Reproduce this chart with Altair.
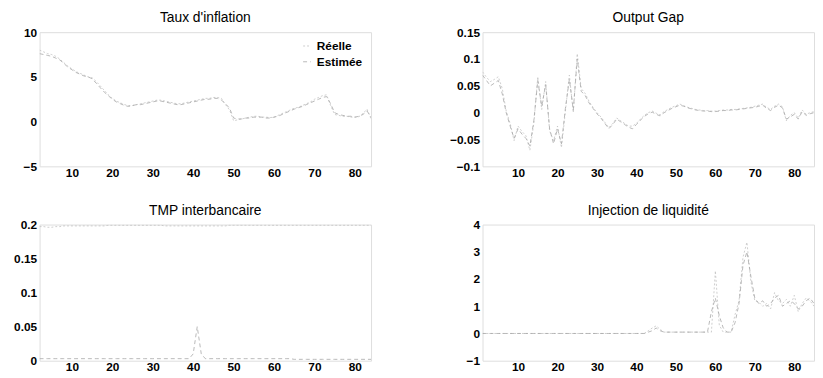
import altair as alt
import pandas as pd

# ---------------- data ----------------
series_names = ["Réelle", "Estimée"]
x_ticks = [10, 20, 30, 40, 50, 60, 70, 80]

# left panels: periods 2..84
t_left = list(range(2, 85))
# right panels: periods 1..85
t_right = list(range(1, 86))

infl_reelle = [8.0, 7.8, 7.6, 7.5, 7.3, 7.0, 6.6, 6.2, 5.9,
               5.6, 5.4, 5.2, 5.0, 4.9, 4.5, 4.0, 3.5, 3.0, 2.6,
               2.3, 2.1, 1.9, 1.8, 1.8, 1.9, 2.0, 2.1, 2.2, 2.3,
               2.4, 2.4, 2.3, 2.2, 2.1, 2.0, 2.0, 2.1, 2.2, 2.3,
               2.4, 2.5, 2.6, 2.6, 2.7, 2.7, 2.6, 1.9, 1.3, 0.1,
               0.2, 0.3, 0.4, 0.5, 0.6, 0.6, 0.5, 0.5, 0.45, 0.5,
               0.7, 0.9, 1.1, 1.3, 1.5, 1.6, 1.8, 2.0, 2.2, 2.5,
               2.7, 2.9, 3.0, 1.8, 0.8, 0.7, 0.6, 0.6, 0.5, 0.5,
               0.55, 0.9, 1.4, 0.3]
infl_estimee = [7.6, 7.5, 7.4, 7.3, 7.1, 6.9, 6.5, 6.1, 5.8,
                5.5, 5.3, 5.1, 5.0, 4.8, 4.3, 3.8, 3.3, 2.9, 2.5,
                2.2, 2.0, 1.8, 1.7, 1.8, 1.9, 1.9, 2.0, 2.1, 2.2,
                2.3, 2.3, 2.2, 2.1, 2.0, 1.9, 1.9, 2.0, 2.1, 2.2,
                2.3, 2.4, 2.5, 2.5, 2.6, 2.6, 2.4, 2.0, 1.5, 0.4,
                0.3, 0.3, 0.4, 0.4, 0.5, 0.5, 0.5, 0.4, 0.4, 0.5,
                0.6, 0.8, 1.0, 1.2, 1.4, 1.55, 1.7, 1.9, 2.1, 2.3,
                2.5, 2.7, 2.8, 2.0, 1.0, 0.8, 0.7, 0.6, 0.6, 0.5,
                0.6, 0.8, 1.2, 0.5]

gap_reelle = [0.076, 0.066, 0.058, 0.062, 0.067, 0.045, 0.003, -0.02, -0.052, -0.025,
              -0.035, -0.043, -0.07, -0.02, 0.067, 0.006, 0.058, -0.034, -0.052, -0.025,
              -0.065, 0.003, 0.07, 0.0, 0.11, 0.045, 0.036, 0.021, 0.01, 0.0,
              -0.008, -0.018, -0.028, -0.02, -0.01, -0.015, -0.02, -0.025, -0.025, -0.02,
              -0.012, -0.005, 0.0, 0.003, -0.001, -0.004, 0.002, 0.006, 0.01, 0.013,
              0.016, 0.013, 0.01, 0.008, 0.006, 0.005, 0.004, 0.004, 0.003, 0.003,
              0.004, 0.005, 0.005, 0.006, 0.006, 0.007, 0.008, 0.009, 0.01, 0.012,
              0.014, 0.016, 0.01, 0.006, 0.012, 0.016, 0.011, -0.015, -0.005, 0.0,
              -0.01, 0.005, -0.003, 0.0, 0.002]
gap_estimee = [0.07, 0.06, 0.05, 0.055, 0.06, 0.035, 0.0, -0.025, -0.048, -0.03,
               -0.04, -0.048, -0.062, -0.015, 0.06, 0.012, 0.052, -0.03, -0.058, -0.03,
               -0.058, 0.008, 0.062, 0.005, 0.1, 0.04, 0.032, 0.018, 0.008, -0.002,
               -0.01, -0.02, -0.03, -0.022, -0.012, -0.017, -0.022, -0.027, -0.03, -0.022,
               -0.014, -0.007, -0.002, 0.001, -0.003, -0.006, 0.0, 0.004, 0.008, 0.011,
               0.014, 0.012, 0.009, 0.007, 0.005, 0.004, 0.003, 0.003, 0.002, 0.002,
               0.003, 0.004, 0.004, 0.005, 0.005, 0.006, 0.007, 0.008, 0.009, 0.01,
               0.012, 0.014, 0.008, 0.004, 0.01, 0.014, 0.009, -0.012, -0.008, -0.003,
               -0.012, 0.002, -0.005, -0.002, 0.0]

tmp_reelle = [0.197, 0.197, 0.196, 0.196, 0.197, 0.197, 0.198, 0.198, 0.198,
              0.198, 0.198, 0.198, 0.198, 0.198, 0.198, 0.198, 0.198, 0.199, 0.199,
              0.199, 0.199, 0.199, 0.199, 0.199, 0.199, 0.199, 0.199, 0.199, 0.199,
              0.199, 0.199, 0.198, 0.198, 0.198, 0.198, 0.198, 0.198, 0.198, 0.198,
              0.198, 0.198, 0.198, 0.198, 0.198, 0.198, 0.198, 0.198, 0.199, 0.199,
              0.199, 0.199, 0.199, 0.199, 0.199, 0.199, 0.199, 0.199, 0.199, 0.199,
              0.199, 0.199, 0.199, 0.199, 0.199, 0.199, 0.199, 0.199, 0.199, 0.199,
              0.199, 0.199, 0.199, 0.199, 0.199, 0.199, 0.199, 0.199, 0.199, 0.199,
              0.199, 0.199, 0.199, 0.199]
tmp_estimee = [0.003, 0.003, 0.003, 0.003, 0.003, 0.003, 0.003, 0.003, 0.003,
               0.003, 0.003, 0.003, 0.003, 0.003, 0.003, 0.003, 0.003, 0.003, 0.003,
               0.003, 0.003, 0.003, 0.003, 0.003, 0.003, 0.003, 0.003, 0.003, 0.003,
               0.003, 0.003, 0.003, 0.003, 0.003, 0.003, 0.003, 0.003, 0.003, 0.01,
               0.05, 0.01, 0.003, 0.003, 0.003, 0.003, 0.003, 0.003, 0.003, 0.003,
               0.003, 0.003, 0.003, 0.003, 0.003, 0.003, 0.003, 0.003, 0.003, 0.003,
               0.003, 0.003, 0.003, 0.003, 0.002, 0.002, 0.002, 0.002, 0.002, 0.002,
               0.002, 0.002, 0.002, 0.002, 0.002, 0.002, 0.002, 0.002, 0.002, 0.002,
               0.002, 0.002, 0.002, 0.002]

inj_reelle = [0, 0, 0, 0, 0, 0, 0, 0, 0, 0,
              0, 0, 0, 0, 0, 0, 0, 0, 0, 0,
              0, 0, 0, 0, 0, 0, 0, 0, 0, 0,
              0, 0, 0, 0, 0, 0, 0, 0, 0, 0,
              0, 0, 0.1, 0.2, 0.28, 0.15, 0.05, 0.05, 0.05, 0.05,
              0.05, 0.05, 0.05, 0.05, 0.05, 0.05, 0.05, 0.05, 0.05, 2.3,
              0.3, 0.05, 0.05, 0.05, 0.7, 1.2, 2.8, 3.35, 1.9, 1.2,
              1.15, 1.0, 1.1, 0.9, 1.5, 1.2, 1.1, 1.25, 1.0, 1.4,
              0.8, 1.1, 1.3, 1.2, 1.0]
inj_estimee = [0, 0, 0, 0, 0, 0, 0, 0, 0, 0,
               0, 0, 0, 0, 0, 0, 0, 0, 0, 0,
               0, 0, 0, 0, 0, 0, 0, 0, 0, 0,
               0, 0, 0, 0, 0, 0, 0, 0, 0, 0,
               0, 0, 0.05, 0.1, 0.2, 0.1, 0.05, 0.05, 0.05, 0.05,
               0.05, 0.05, 0.05, 0.05, 0.05, 0.05, 0.05, 0.05, 0.8, 1.3,
               0.65, 0.2, 0.05, 0.05, 0.4, 1.1, 2.5, 3.0, 2.1, 1.3,
               1.1, 1.2, 1.0, 1.1, 1.3, 1.4, 1.0, 1.1, 1.2, 1.1,
               0.9, 1.0, 1.2, 1.3, 1.1]


def long_df(t, reelle, estimee):
    return pd.DataFrame({
        "t": t + t,
        "v": reelle + estimee,
        "Série": [series_names[0]] * len(t) + [series_names[1]] * len(t),
    })


FONT = "Liberation Sans"


def panel(df, title, ydom, yticks, xdom, fmt, legend=False, w=336, h=136):
    if legend:
        leg = alt.Legend(title=None, orient="top-right", offset=6,
                         labelFontSize=12, labelFontWeight="bold",
                         labelFont=FONT, labelColor="#000",
                         symbolType="stroke", symbolSize=60,
                         symbolStrokeWidth=0.8, rowPadding=4,
                         padding=2, fillColor="white")
    else:
        leg = None
    ax = dict(title=None, grid=False, ticks=False, domain=False,
              labelFont=FONT, labelFontSize=12, labelFontWeight="bold",
              labelColor="#000")
    return alt.Chart(df, title=alt.Title(title, font=FONT, fontSize=14,
                                         fontWeight="normal", color="#000",
                                         offset=1)).mark_line(
        strokeWidth=0.8, clip=True
    ).encode(
        x=alt.X("t:Q", scale=alt.Scale(domain=xdom, nice=False, zero=False),
                axis=alt.Axis(values=x_ticks, format="d", labelPadding=1, **ax)),
        y=alt.Y("v:Q", scale=alt.Scale(domain=ydom, nice=False, zero=False),
                axis=alt.Axis(values=yticks, format=fmt, labelPadding=3, **ax)),
        color=alt.Color("Série:N",
                        scale=alt.Scale(domain=series_names,
                                        range=["#c2c2c2", "#a8a8a8"]),
                        legend=leg),
        strokeDash=alt.StrokeDash("Série:N",
                                  scale=alt.Scale(domain=series_names,
                                                  range=[[2, 2], [4, 3]]),
                                  legend=leg),
    ).properties(width=w, height=h)


p1 = panel(long_df(t_left, infl_reelle, infl_estimee), "Taux d'inflation",
           [-5, 10], [-5, 0, 5, 10], [2, 84], "d", legend=True)
p2 = panel(long_df(t_right, gap_reelle, gap_estimee), "Output Gap",
           [-0.1, 0.15], [-0.1, -0.05, 0, 0.05, 0.1, 0.15], [1, 85], ".2~f")
p3 = panel(long_df(t_left, tmp_reelle, tmp_estimee), "TMP interbancaire",
           [0, 0.2], [0, 0.05, 0.1, 0.15, 0.2], [2, 84], ".2~f", h=138)
p4 = panel(long_df(t_right, inj_reelle, inj_estimee), "Injection de liquidité",
           [-1, 4], [-1, 0, 1, 2, 3, 4], [1, 85], "d", h=138)

chart = alt.concat(p1, p2, p3, p4, columns=2,
                   spacing={"row": 24, "column": 78}).resolve_scale(
    color="independent", strokeDash="independent"
).properties(
    padding={"left": 5, "top": 0, "right": 0, "bottom": 0}
).configure_view(
    stroke="#555", strokeWidth=1, strokeDash=[4, 2]
).configure_axis(
    grid=False
).configure(background="white")

chart.save("out.html", embed_options={"renderer": "svg", "actions": False})
